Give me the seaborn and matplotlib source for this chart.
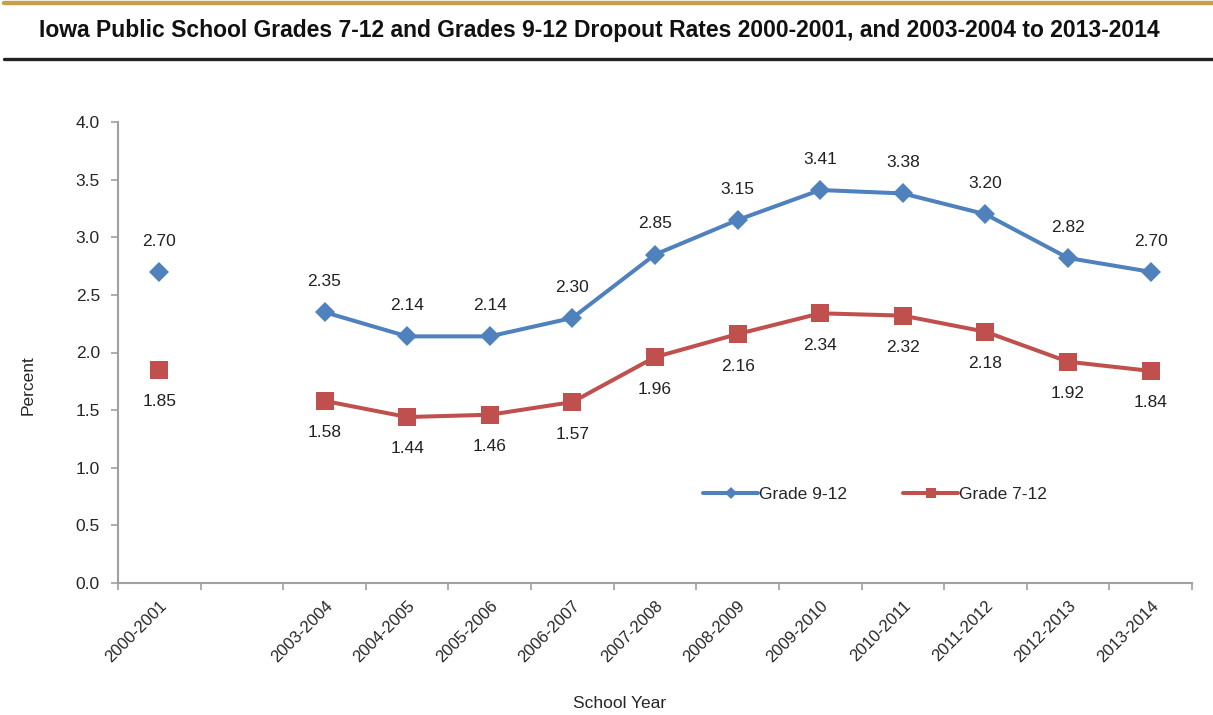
import matplotlib
matplotlib.use("Agg")
import matplotlib.pyplot as plt
from matplotlib.lines import Line2D
from matplotlib.ticker import FormatStrFormatter, FixedLocator
import seaborn as sns
import numpy as np
import pandas as pd

# data
years = ["2000-2001", "", "2003-2004", "2004-2005", "2005-2006", "2006-2007",
         "2007-2008", "2008-2009", "2009-2010", "2010-2011", "2011-2012",
         "2012-2013", "2013-2014"]
grade_9_12 = [2.70, np.nan, 2.35, 2.14, 2.14, 2.30, 2.85, 3.15, 3.41, 3.38, 3.20, 2.82, 2.70]
grade_7_12 = [1.85, np.nan, 1.58, 1.44, 1.46, 1.57, 1.96, 2.16, 2.34, 2.32, 2.18, 1.92, 1.84]

blue = "#4F81BD"
red = "#C0504D"

sns.set_theme(style="white")
plt.rcParams["font.family"] = ["Liberation Sans", "DejaVu Sans"]

df = pd.DataFrame({"pos": np.arange(len(years)), "year": years,
                   "Grade 9-12": grade_9_12, "Grade 7-12": grade_7_12})

fig = plt.figure(figsize=(12.13, 7.15), dpi=100)
ax = fig.add_axes([118 / 1213, 1 - 583 / 715, (1192 - 118) / 1213, (583 - 122) / 715])

# first year stands alone, the rest is one connected run
first = df.iloc[:1]
rest = df.iloc[2:]
series = [("Grade 9-12", blue, "D", 10), ("Grade 7-12", red, "s", 13)]
for name, col, mk, ms in series:
    sns.lineplot(data=rest, x="pos", y=name, ax=ax, color=col, lw=2.9,
                 marker=mk, markersize=ms, markeredgewidth=0, label=name)
    sns.lineplot(data=first, x="pos", y=name, ax=ax, color=col, lw=0,
                 marker=mk, markersize=ms, markeredgewidth=0, legend=False)

# data labels
for p, v in zip(df["pos"], df["Grade 9-12"]):
    if not np.isnan(v):
        ax.annotate(f"{v:.2f}", (p, v), xytext=(0, 22), textcoords="offset points",
                    ha="center", va="center", fontsize=12.5, color="#222222")
for p, v in zip(df["pos"], df["Grade 7-12"]):
    if not np.isnan(v):
        ax.annotate(f"{v:.2f}", (p, v), xytext=(0, -23), textcoords="offset points",
                    ha="center", va="center", fontsize=12.5, color="#222222")

ax.set_xlim(-0.5, len(years) - 0.5)
ax.set_ylim(0, 4)
ax.set_yticks(np.arange(0, 4.01, 0.5))
ax.yaxis.set_major_formatter(FormatStrFormatter("%.1f"))
ax.set_xticks(df["pos"])
ax.set_xticklabels(years, rotation=45, ha="right", rotation_mode="anchor", fontsize=12)
ax.xaxis.set_minor_locator(FixedLocator(np.arange(-0.5, len(years), 1)))
ax.tick_params(axis="x", which="major", length=0, pad=11)
ax.tick_params(axis="x", which="minor", length=5, width=1.2, color="#a0a0a0", direction="out")
ax.tick_params(axis="y", length=5, width=1.2, color="#a0a0a0", direction="out",
               labelsize=12.5, pad=8)
ax.tick_params(axis="x", bottom=True, which="both")
ax.tick_params(axis="y", left=True)
for s in ["top", "right"]:
    ax.spines[s].set_visible(False)
for s in ["left", "bottom"]:
    ax.spines[s].set_color("#a0a0a0")
    ax.spines[s].set_linewidth(1.5)

ax.set_xlabel("School Year", fontsize=12.5)
ax.set_ylabel("Percent", fontsize=12.5)
ax.xaxis.set_label_coords(0.467, -0.245)
ax.yaxis.set_label_coords(-0.077, 0.43)

ax.legend(loc="center left", bbox_to_anchor=(0.53, 0.193), ncol=2, frameon=False,
          fontsize=12.5, handlelength=3.2, handletextpad=0.05, columnspacing=3.2,
          markerscale=0.6)

# title and decorative rules
fig.text(0.494, 1 - 31 / 715, "Iowa Public School Grades 7-12 and Grades 9-12 Dropout Rates 2000-2001, and 2003-2004 to 2013-2014",
         ha="center", va="center", fontsize=16.5, fontweight="bold", color="#111111")
fig.add_artist(Line2D([4 / 1213, 1], [1 - 3 / 715] * 2, color="#C9A04A", lw=3.2))
fig.add_artist(Line2D([4 / 1213, 1], [1 - 58.5 / 715] * 2, color="#222222", lw=2.4))

fig.savefig("out.png", dpi=100)
